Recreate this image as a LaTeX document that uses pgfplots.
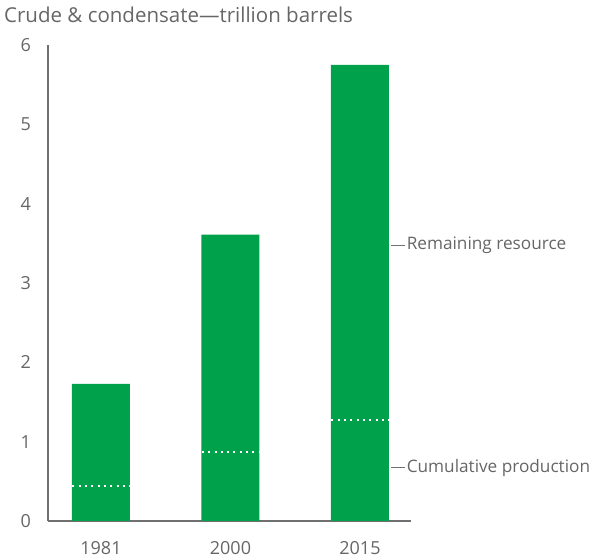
\documentclass[border=0pt]{standalone}
\usepackage{fontspec}
\setmainfont{Open Sans}
\usepackage{pgfplots}
\pgfplotsset{compat=1.18}
\definecolor{barGreen}{HTML}{00A14B}
\definecolor{txtGrey}{HTML}{666666}
\definecolor{axGrey}{HTML}{707070}
\begin{document}
\fontsize{17.2}{20}\selectfont
\begin{tikzpicture}
\begin{axis}[
    scale only axis,
    width=363pt, height=476pt,
    xmin=-0.409, xmax=2.394,
    ymin=0, ymax=6,
    axis lines*=left,
    axis line style={axGrey, line width=1.4pt},
    separate axis lines,
    x axis line style={-}, y axis line style={-},
    xtick={0,1,2}, xticklabels={1981,2000,2015},
    ytick={0,1,2,3,4,5,6},
    major tick length=0pt,
    tick style={draw=none},
    ticklabel style={font=\fontsize{18}{21}\selectfont, text=txtGrey},
    yticklabel style={anchor=east, inner sep=0pt, xshift=-17pt},
    xticklabel style={anchor=north, inner sep=0pt, yshift=-20pt},
    /pgf/number format/assume math mode=true,
    clip=false,
]
\addplot[ybar, bar width=58pt, bar shift=0pt, fill=barGreen, draw=none]
  coordinates {(0,1.73) (1,3.61) (2,5.75)};
% cumulative production
\addplot[white, line width=2pt, dash pattern=on 2pt off 4.3pt] coordinates {(-0.22,0.44) (0.22,0.44)};
\addplot[white, line width=2pt, dash pattern=on 2pt off 4.3pt] coordinates {(0.78,0.87) (1.22,0.87)};
\addplot[white, line width=2pt, dash pattern=on 2pt off 4.3pt] coordinates {(1.78,1.27) (2.22,1.27)};
% leader lines
\addplot[axGrey, line width=0.9pt] coordinates {(2.240,3.47) (2.348,3.47)};
\addplot[axGrey, line width=0.9pt] coordinates {(2.240,0.67) (2.348,0.67)};
\node[anchor=west, inner sep=0pt, text=txtGrey] at (axis cs:2.36,3.47) {Remaining resource};
\node[anchor=west, inner sep=0pt, text=txtGrey] at (axis cs:2.36,0.67) {Cumulative production};
\coordinate (O) at (rel axis cs:0,0);
\end{axis}
\node[anchor=base west, inner sep=0pt, text=txtGrey, font=\fontsize{20.5}{24}\selectfont] at ([shift={(-44pt,498pt)}]O) {Crude \& condensate—trillion barrels};
\pgfresetboundingbox
\path ([shift={(-48pt,-38pt)}]O) rectangle ++(594pt,559pt);
\end{tikzpicture}
\end{document}
